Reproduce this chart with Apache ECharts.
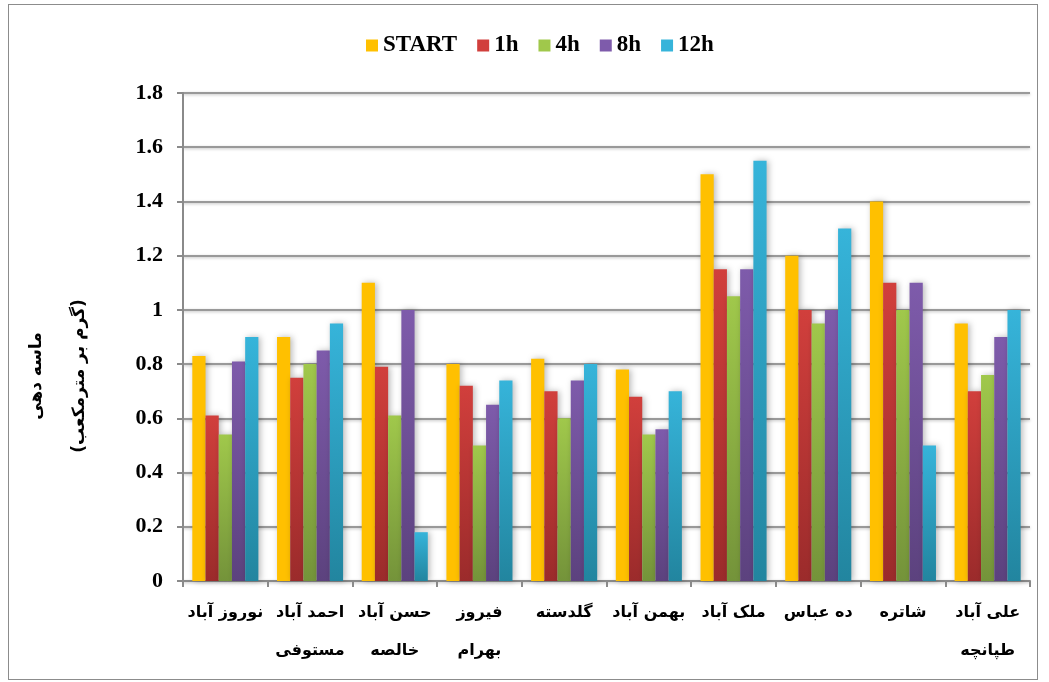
<!DOCTYPE html>
<html><head><meta charset="utf-8">
<script src="https://cdn.jsdelivr.net/npm/echarts@6/dist/echarts.min.js"></script>
<style>
html,body{margin:0;padding:0;background:#fff;}
#wrap{position:absolute;left:8px;top:4px;width:1030px;height:676px;border:1.5px solid #8c8c8c;box-sizing:border-box;}
#c{position:absolute;left:0;top:0;width:1049px;height:682px;}
</style></head>
<body>
<div id="wrap"></div>
<div id="c"></div>
<script>
var categories = ['نوروز آباد','احمد آباد\nمستوفی','حسن آباد\nخالصه','فیروز\nبهرام','گلدسته','بهمن آباد','ملک آباد','ده عباس','شاتره','علی آباد\nطپانچه'];
var seriesNames = ['START','1h','4h','8h','12h'];
var startVals = [0.83,0.90,1.10,0.80,0.82,0.78,1.50,1.20,1.40,0.95];
var h1Vals    = [0.61,0.75,0.79,0.72,0.70,0.68,1.15,1.00,1.10,0.70];
var h4Vals    = [0.54,0.80,0.61,0.50,0.60,0.54,1.05,0.95,1.00,0.76];
var h8Vals    = [0.81,0.85,1.00,0.65,0.74,0.56,1.15,1.00,1.10,0.90];
var h12Vals   = [0.90,0.95,0.18,0.74,0.80,0.70,1.55,1.30,0.50,1.00];
var yTitle = 'ماسه دهی\n(گرم بر مترمکعب)';

var colors = [
  ['#FFC000','#FFC000'],
  ['#D13F3C','#9B2B2B'],
  ['#A0C84B','#74933A'],
  ['#7E5BAB','#5C427E'],
  ['#36B4DA','#22859F']
];
var allVals = [startVals,h1Vals,h4Vals,h8Vals,h12Vals];
function grad(c){return new echarts.graphic.LinearGradient(0,0,0,1,[{offset:0,color:c[0]},{offset:1,color:c[1]}]);}
var series = seriesNames.map(function(n,i){
  return {name:n,type:'bar',data:allVals[i],barGap:'0%',barCategoryGap:'22%',
    itemStyle:{color:grad(colors[i]),shadowColor:'rgba(0,0,0,0.28)',shadowBlur:6,shadowOffsetX:2,shadowOffsetY:0}};
});
var chart = echarts.init(document.getElementById('c'));
chart.setOption({
  animation:false,
  legend:{top:29,left:361,itemWidth:12,itemHeight:12,itemGap:20,icon:'rect',
    data:seriesNames.map(function(n,i){return {name:n,itemStyle:{color:colors[i][0]}};}),
    textStyle:{fontFamily:'Liberation Serif',fontWeight:'bold',fontSize:23,color:'#000'}},
  grid:{left:183,right:19,top:93,bottom:101},
  graphic:[{type:'text',x:58,y:376,rotation:Math.PI/2,
    style:{text:yTitle,fontFamily:'DejaVu Sans',fontWeight:'bold',fontSize:17,fill:'#000',
      lineHeight:43,align:'center',verticalAlign:'middle'}}],
  xAxis:{type:'category',data:categories,
    axisLine:{lineStyle:{color:'#8a8a8a',width:2}},
    axisTick:{show:true,length:6,lineStyle:{color:'#8a8a8a',width:2}},
    axisLabel:{fontFamily:'DejaVu Sans',fontWeight:'bold',fontSize:16,color:'#000',margin:13,lineHeight:38,interval:0}},
  yAxis:{type:'value',min:0,max:1.8,interval:0.2,
    axisLine:{show:true,lineStyle:{color:'#8a8a8a',width:2}},
    axisTick:{show:true,length:6,lineStyle:{color:'#8a8a8a',width:2}},
    splitLine:{lineStyle:{color:'#999',width:2,shadowColor:'rgba(0,0,0,0.25)',shadowBlur:3,shadowOffsetY:1}},
    axisLabel:{fontFamily:'Liberation Serif',fontWeight:'bold',fontSize:22,color:'#000',margin:20,
      formatter:function(v){return String(Math.round(v*10)/10);}}},
  series:series
});
</script>
</body></html>
